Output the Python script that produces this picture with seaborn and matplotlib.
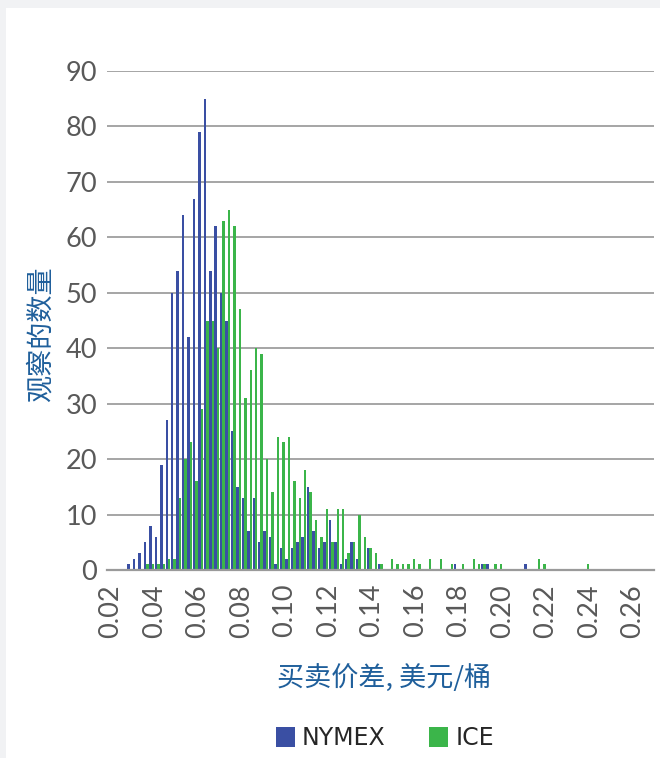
import matplotlib
matplotlib.use("Agg")
import matplotlib.pyplot as plt
from matplotlib.patches import Rectangle
import pandas as pd
import seaborn as sns

# bin centres of the bid-ask spread (USD per barrel)
spread = [0.02875, 0.03125, 0.03375, 0.03625, 0.03875, 0.04125, 0.04375, 0.04625, 0.04875, 0.05125,
          0.05375, 0.05625, 0.05875, 0.06125, 0.06375, 0.06625, 0.06875, 0.07125, 0.07375, 0.07625,
          0.07875, 0.08125, 0.08375, 0.08625, 0.08875, 0.09125, 0.09375, 0.09625, 0.09875, 0.10125,
          0.10375, 0.10625, 0.10875, 0.11125, 0.11375, 0.11625, 0.11875, 0.12125, 0.12375, 0.12625,
          0.12875, 0.13125, 0.13375, 0.13625, 0.13875, 0.14125, 0.14375, 0.14625, 0.14875, 0.15125,
          0.15375, 0.15625, 0.15875, 0.16125, 0.16375, 0.16625, 0.16875, 0.17125, 0.17375, 0.17625,
          0.17875, 0.18125, 0.18375, 0.18625, 0.18875, 0.19125, 0.19375, 0.19625, 0.19875, 0.20125,
          0.20375, 0.20625, 0.20875, 0.21125, 0.21375, 0.21625, 0.21875, 0.22125, 0.22375, 0.22625,
          0.22875, 0.23125, 0.23375, 0.23625, 0.23875]

nymex = [1, 2, 3, 5, 8, 6, 19, 27, 50, 54,
         64, 42, 67, 79, 85, 54, 62, 50, 45, 25,
         15, 13, 7, 13, 5, 7, 6, 1, 4, 2,
         4, 5, 6, 15, 7, 4, 5, 9, 5, 1,
         2, 5, 2, 0, 4, 0, 1, 0, 0, 0,
         0, 0, 0, 0, 0, 0, 0, 0, 0, 0,
         1, 0, 0, 0, 0, 1, 1, 0, 0, 0,
         0, 0, 0, 1, 0, 0, 0, 0, 0, 0,
         0, 0, 0, 0, 0]

ice = [0, 0, 0, 1, 1, 1, 1, 2, 2, 13,
       20, 23, 16, 29, 45, 45, 40, 63, 65, 62,
       47, 31, 36, 40, 39, 20, 14, 24, 23, 24,
       16, 13, 18, 14, 9, 6, 11, 5, 11, 11,
       3, 5, 10, 6, 4, 3, 1, 0, 2, 1,
       1, 1, 2, 1, 0, 2, 0, 2, 0, 1,
       0, 1, 0, 2, 1, 1, 0, 1, 1, 0,
       0, 0, 0, 0, 0, 2, 1, 0, 0, 0,
       0, 0, 0, 0, 1]

series_names = ["NYMEX", "ICE"]
xticks = [0.02, 0.04, 0.06, 0.08, 0.10, 0.12, 0.14, 0.16, 0.18, 0.20, 0.22, 0.24, 0.26]
yticks = [0, 10, 20, 30, 40, 50, 60, 70, 80, 90]

df = pd.concat([
    pd.DataFrame({"spread": spread, "count": nymex, "exchange": series_names[0]}),
    pd.DataFrame({"spread": spread, "count": ice, "exchange": series_names[1]}),
])

sns.set_style("white")
plt.rcParams["font.family"] = ["Lato", "Noto Sans CJK SC", "DejaVu Sans"]

fig = plt.figure(figsize=(6.6, 7.58), dpi=100)
fig.patch.set_facecolor("#f1f2f4")
fig.add_artist(Rectangle((6 / 660, 0), 1, 1 - 8 / 758, transform=fig.transFigure,
                         facecolor="white", edgecolor="none", zorder=-10))
ax = fig.add_axes([107 / 660, 1 - 570 / 758, 547 / 660, 499 / 758])
ax.set_facecolor("none")

sns.barplot(data=df, x="spread", y="count", hue="exchange", hue_order=series_names,
            palette=["#3a4fa3", "#3bb54a"], saturation=1, native_scale=True, width=0.9,
            errorbar=None, linewidth=0, ax=ax, zorder=3)

ax.set_xlim(0.0182, 0.2697)
ax.set_ylim(0, 90)
ax.set_xticks(xticks)
ax.set_xticklabels([f"{t:.2f}" for t in xticks], rotation=90)
ax.set_yticks(yticks)

ax.yaxis.grid(True, color="#9e9e9e", linewidth=1.3, zorder=0)
ax.xaxis.grid(False)
for side in ["top", "right", "left"]:
    ax.spines[side].set_visible(False)
ax.spines["bottom"].set_color("#9a9a9a")
ax.spines["bottom"].set_linewidth(1.6)
ax.spines["bottom"].set_zorder(4)

ax.tick_params(axis="x", direction="out", length=5, width=1.3, color="#9a9a9a",
               labelsize=19.5, labelcolor="#595959", pad=5)
ax.tick_params(axis="y", length=0, labelsize=19.5, labelcolor="#595959", pad=7)

ax.set_xlabel("买卖价差, 美元/桶", fontsize=19.5, color="#1f5f9b",
              family=["Noto Sans CJK SC", "DejaVu Sans"])
ax.xaxis.set_label_coords(0.506, -0.19)
ax.set_ylabel("观察的数量", fontsize=19.5, color="#1f5f9b",
              family=["Noto Sans CJK SC", "DejaVu Sans"])
ax.yaxis.set_label_coords(-0.095, 0.473)

sns.move_legend(ax, "center", bbox_to_anchor=(0.508, -0.337), ncol=2, title=None,
                frameon=False, handlelength=0.8, handleheight=0.9,
                handletextpad=0.3, columnspacing=1.85,
                prop={"family": ["Liberation Sans Narrow", "DejaVu Sans"], "size": 17})

fig.savefig("out.png", dpi=100)
